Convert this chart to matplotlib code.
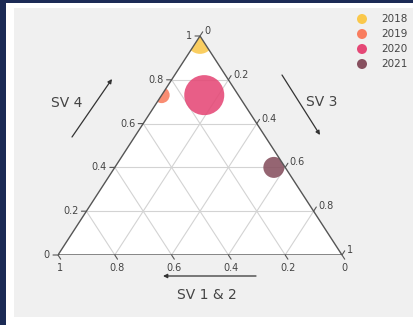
import numpy as np
import matplotlib
matplotlib.use("Agg")
import matplotlib.pyplot as plt
from matplotlib.patches import Polygon, Rectangle
from matplotlib import transforms

# data: ternary coordinates (a = SV 4, b = SV 1 & 2, c = SV 3)
years = ["2018", "2019", "2020", "2021"]
sv4 = [0.98, 0.73, 0.73, 0.40]
sv12 = [0.01, 0.27, 0.12, 0.04]
sv3 = [0.01, 0.00, 0.15, 0.56]
bubble_px = [27, 16, 40, 21]
colors = ["#FAC84B", "#F97D5F", "#E54876", "#87505F"]
ticks = [0, 0.2, 0.4, 0.6, 0.8, 1]
tick_labels = ["0", "0.2", "0.4", "0.6", "0.8", "1"]

W, H = 414, 325
TXT = "#444444"

fig = plt.figure(figsize=(W / 100, H / 100), dpi=100)
fig.patch.set_facecolor("white")

# background / frame (pixel coords)
bg = fig.add_axes([0, 0, 1, 1], zorder=0)
bg.set_xlim(0, W)
bg.set_ylim(H, 0)
bg.axis("off")
bg.add_patch(Rectangle((14, 8), W - 14, 309, color="#f0f0f0", lw=0))
bg.add_patch(Rectangle((0, 0), 6.5, H, color="#1b2a55", lw=0))
bg.add_patch(Rectangle((0, 0), W, 2.5, color="#1b2a55", lw=0))

# ternary axes: unit triangle, b at bottom-left, c at bottom-right, a at top
x0, x1, ytop, ybot = 58, 342, 36, 255
ax = fig.add_axes([x0 / W, (H - ybot) / H, (x1 - x0) / W, (ybot - ytop) / H], zorder=1)
ax.set_xlim(0, 1)
ax.set_ylim(0, 1)
ax.axis("off")


def tern(a, b, c):
    a, b, c = np.asarray(a), np.asarray(b), np.asarray(c)
    s = a + b + c
    a, c = a / s, c / s
    return 0.5 * a + c, a


tri = Polygon([(0, 0), (1, 0), (0.5, 1)], closed=True, facecolor="white",
              edgecolor="none", zorder=1)
ax.add_patch(tri)

# grid
grid_kw = dict(color="#d3d3d3", lw=0.8, zorder=2)
for t in ticks[1:-1]:
    for p, q in [(tern(t, 1 - t, 0), tern(t, 0, 1 - t)),
                 (tern(0, t, 1 - t), tern(1 - t, t, 0)),
                 (tern(0, 1 - t, t), tern(1 - t, 0, t))]:
        ax.plot([p[0], q[0]], [p[1], q[1]], **grid_kw)

# bubbles, clipped to the triangle
xs, ys = tern(sv4, sv12, sv3)
sizes = [(d * 0.72) ** 2 for d in bubble_px]
sc = ax.scatter(xs, ys, s=sizes, c=colors, alpha=0.88, edgecolors="none", zorder=3)
sc.set_clip_path(tri)

ax.plot([0, 1, 0.5, 0], [0, 0, 1, 0], color="#555555", lw=1.0, zorder=4,
        solid_joinstyle="miter")

# ticks and tick labels
L = 5.0
ex, ey = 142 / np.hypot(142, 219), 219 / np.hypot(142, 219)
tick_line = dict(arrowstyle="-", color="#555555", lw=0.8, shrinkA=0, shrinkB=0)


def off(dx, dy):
    return transforms.offset_copy(ax.transData, fig, x=dx, y=dy, units="dots")


def tick(px, py, dx, dy):
    ax.annotate("", xy=(px, py), xytext=(dx, dy), textcoords="offset pixels",
                arrowprops=tick_line, annotation_clip=False)


for t, lab in zip(ticks, tick_labels):
    # SV 4 (left side)
    px, py = tern(t, 1 - t, 0)
    tick(px, py, -L, 0)
    ax.text(px, py, lab, transform=off(-8, 0), ha="right", va="center",
            fontsize=7, color=TXT)
    # SV 3 (right side)
    px, py = tern(1 - t, 0, t)
    tick(px, py, L * ex, L * ey)
    ax.text(px, py, lab, transform=off(4.5, 5), ha="left", va="center",
            fontsize=7, color=TXT)
    # SV 1 & 2 (bottom)
    px, py = tern(0, t, 1 - t)
    tick(px, py, L * ex, -L * ey)
    ax.text(px, py, lab, transform=off(2.5, -13), ha="center", va="center",
            fontsize=7, color=TXT)

# overlay: axis titles, arrows, legend (pixel coords)
ov = fig.add_axes([0, 0, 1, 1], zorder=2)
ov.set_xlim(0, W)
ov.set_ylim(H, 0)
ov.axis("off")
ov.patch.set_alpha(0)

ov.text(67, 103, "SV 4", fontsize=10, color=TXT, ha="center", va="center")
ov.text(322, 102, "SV 3", fontsize=10, color=TXT, ha="center", va="center")
ov.text(207, 295, "SV 1 & 2", fontsize=10, color=TXT, ha="center", va="center")

arr = dict(arrowstyle="-|>", color="#333333", lw=0.9, mutation_scale=6,
           shrinkA=0, shrinkB=0)
ov.annotate("", xy=(112, 79), xytext=(72, 137), arrowprops=arr)
ov.annotate("", xy=(320, 135), xytext=(282, 75), arrowprops=arr)
ov.annotate("", xy=(163, 276), xytext=(256, 276), arrowprops=arr)

for i, (yr, col) in enumerate(zip(years, colors)):
    yy = 19 + 15 * i
    ov.scatter([362], [yy], s=(10 * 0.72) ** 2, color=col, edgecolors="none")
    ov.text(381, yy, yr, fontsize=7.5, color=TXT, ha="left", va="center")

fig.savefig("out.png", dpi=100)
